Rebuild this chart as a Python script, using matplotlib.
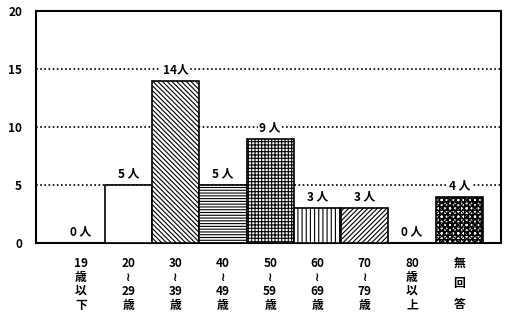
import matplotlib.pyplot as plt
import numpy as np

plt.rcParams['font.family'] = ['Noto Sans CJK JP', 'DejaVu Sans']
plt.rcParams['hatch.linewidth'] = 0.8

categories = ["19\n歳\n以\n下", "20\n≀\n29\n歳", "30\n≀\n39\n歳", "40\n≀\n49\n歳",
              "50\n≀\n59\n歳", "60\n≀\n69\n歳", "70\n≀\n79\n歳", "80\n歳\n以\n上", "無\n回\n答"]
values = [0, 5, 14, 5, 9, 3, 3, 0, 4]
hatches = ['', '', '\\\\\\\\\\\\\\', '------', '+++++', '||||', '///////', '', 'xxxxxx++++']

fig = plt.figure(figsize=(5.11, 3.27), dpi=100)
ax = fig.add_axes([36/511, 1-243/327, 465/511, 232/327])

x = np.arange(len(values))
for xi, v, h in zip(x, values, hatches):
    ax.bar(xi, v, width=1.0, facecolor='white', edgecolor='black', hatch=h, linewidth=1.2, zorder=3)
    lab = f"{v}人" if v >= 10 else f"{v} 人"
    ax.text(xi, v + 0.4, lab, ha='center', va='bottom', fontsize=8.5, fontweight='bold', zorder=4,
            bbox=dict(facecolor='white', edgecolor='none', pad=1))

ax.set_xlim(-0.95, 8.88)
ax.set_ylim(0, 20)
ax.set_yticks([0, 5, 10, 15, 20])
ax.set_yticklabels(['0', '5', '10', '15', '20'], fontsize=8.5, fontweight='bold')
ax.set_xticks(x)
ax.set_xticklabels(categories, fontsize=8.5, fontweight='bold', linespacing=1.1)
ax.get_xticklabels()[-1].set_linespacing(1.75)
ax.tick_params(length=0)
ax.tick_params(axis='x', pad=10)
ax.tick_params(axis='y', pad=10)
for yv in [5, 10, 15]:
    ax.axhline(yv, color='black', linestyle=(0, (1, 1.5)), linewidth=1.2, zorder=1)
for s in ax.spines.values():
    s.set_linewidth(1.5)

fig.savefig('out.png', dpi=100)
